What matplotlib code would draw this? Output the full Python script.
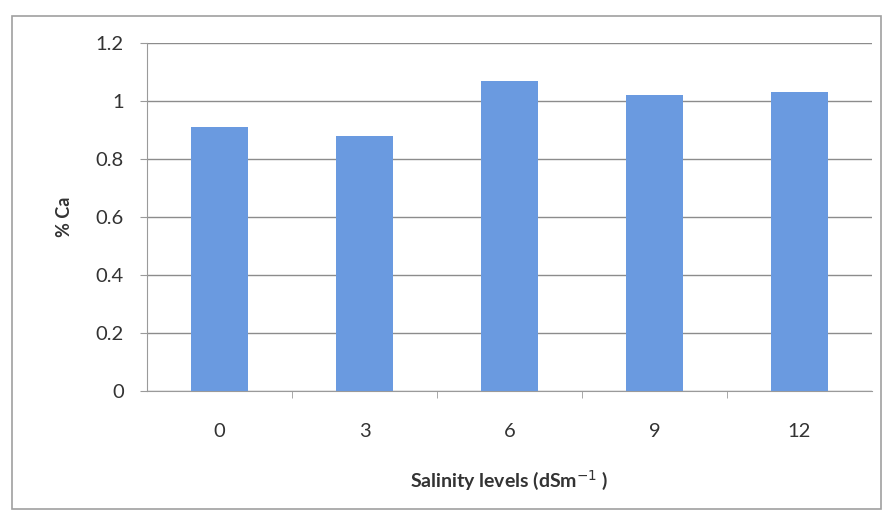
import matplotlib.pyplot as plt
from matplotlib.patches import Rectangle

# Calcium content at each salinity level
salinity = ['0', '3', '6', '9', '12']
calcium = [0.91, 0.88, 1.07, 1.02, 1.03]
y_ticks = [0, 0.2, 0.4, 0.6, 0.8, 1, 1.2]
y_tick_labels = ['0', '0.2', '0.4', '0.6', '0.8', '1', '1.2']

plt.rcParams['font.family'] = ['Lato', 'DejaVu Sans']

fig = plt.figure(figsize=(8.87, 5.17), dpi=100)
ax = fig.add_axes([0.166, 0.244, 0.817, 0.673])

x = range(len(salinity))
ax.bar(x, calcium, width=0.39, color='#6a9ae0', zorder=3)

ax.set_xlim(-0.5, len(salinity) - 0.5)
ax.set_ylim(0, 1.2)
ax.set_yticks(y_ticks)
ax.set_yticklabels(y_tick_labels)
ax.set_xticks(list(x))
ax.set_xticklabels(salinity)
ax.set_xticks([i + 0.5 for i in range(len(salinity) - 1)], minor=True)

ax.grid(axis='y', color='#8c8c8c', linewidth=1.0, zorder=0)
for side in ['top', 'right']:
    ax.spines[side].set_visible(False)
ax.spines['left'].set_color('#9a9a9a')
ax.spines['bottom'].set_color('#9a9a9a')

ax.tick_params(axis='y', length=5, color='#9a9a9a', labelsize=14.5,
               labelcolor='#333333', pad=12)
ax.tick_params(axis='x', which='major', length=0, labelsize=14.5,
               labelcolor='#333333', pad=23)
ax.tick_params(axis='x', which='minor', length=5, color='#9a9a9a')

ax.set_ylabel('% Ca', fontsize=13, fontweight='bold', color='#333333', labelpad=16)
ax.set_xlabel('Salinity levels (dSm$^{-1}$ )', fontsize=14,
              fontweight='bold', color='#333333', labelpad=20)

# Chart frame
fig.patches.append(Rectangle((0.013, 0.015), 0.98, 0.955, transform=fig.transFigure,
                             fill=False, edgecolor='#a0a0a0', linewidth=1.2))

plt.savefig('out.png', dpi=100)
